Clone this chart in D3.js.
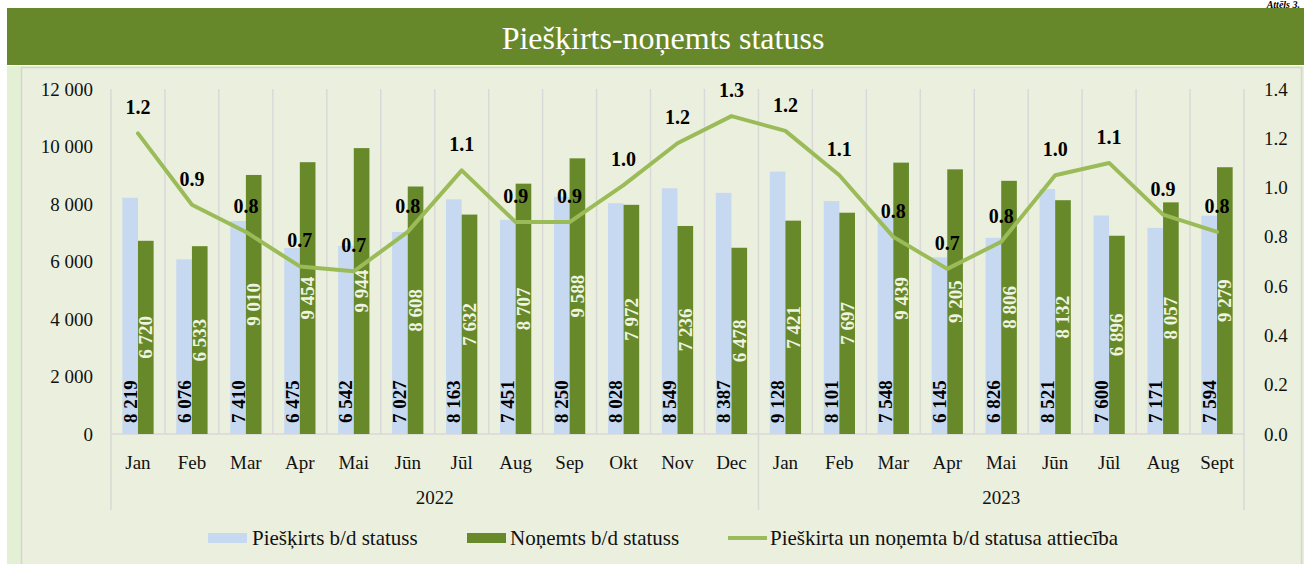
<!DOCTYPE html>
<html>
<head>
<meta charset="utf-8">
<script src="https://cdn.jsdelivr.net/npm/d3@7"></script>
<style>
  html, body { margin: 0; padding: 0; background: #ffffff; }
  svg { display: block; font-family: "Liberation Serif", "Times New Roman", serif; }
</style>
</head>
<body>
<svg id="chart" width="1304" height="564"></svg>
<script>
// ---- data ----
const months2022 = ["Jan","Feb","Mar","Apr","Mai","Jūn","Jūl","Aug","Sep","Okt","Nov","Dec"];
const months2023 = ["Jan","Feb","Mar","Apr","Mai","Jūn","Jūl","Aug","Sept"];
const years = ["2022", "2023"];
const granted = [8219,6076,7410,6475,6542,7027,8163,7451,8250,8028,8549,8387,
                 9128,8101,7548,6145,6826,8521,7600,7171,7594];
const revoked = [6720,6533,9010,9454,9944,8608,7632,8707,9588,7972,7236,6478,
                 7421,7697,9439,9205,8806,8132,6896,8057,9279];
const ratio = [1.22,0.93,0.82,0.68,0.66,0.82,1.07,0.86,0.86,1.01,1.18,1.29,
               1.23,1.05,0.80,0.67,0.78,1.05,1.10,0.89,0.82];
const ratioLabels = ["1.2","0.9","0.8","0.7","0.7","0.8","1.1","0.9","0.9","1.0","1.2","1.3",
                     "1.2","1.1","0.8","0.7","0.8","1.0","1.1","0.9","0.8"];
const leftTicks = [0,2000,4000,6000,8000,10000,12000];
const rightTicks = [0,0.2,0.4,0.6,0.8,1.0,1.2,1.4];
const title = "Piešķirts-noņemts statuss";
const legendLabels = ["Piešķirts b/d statuss", "Noņemts b/d statuss", "Pieškirta un noņemta b/d statusa attiecība"];

// ---- styles ----
const C = {
  titleBg: "#67882a", panel: "#ebf0de", strip: "#e3f0d4", border: "#d4d4d4",
  blue: "#c6d9f0", green: "#67892a", line: "#9bbb59", grid: "#d9d9d9", text: "#111111"
};

const svg = d3.select("#chart");
const cats = months2022.map((m,i)=>({m, y:0, i})).concat(months2023.map((m,i)=>({m, y:1, i:12+i})));
const N = cats.length;

// background panels
svg.append("rect").attr("x",7).attr("y",66).attr("width",1297).attr("height",498).attr("fill",C.strip);
svg.append("rect").attr("x",21.5).attr("y",67.5).attr("width",1280).attr("height",500)
  .attr("fill",C.panel).attr("stroke",C.border).attr("stroke-width",1.5);
svg.append("rect").attr("x",7).attr("y",8).attr("width",1297).attr("height",57).attr("fill",C.titleBg);
svg.append("text").attr("x",663).attr("y",49).attr("text-anchor","middle")
  .attr("fill","#ffffff").attr("font-size",32).text(title);
svg.append("text").attr("x",1300).attr("y",7.5).attr("text-anchor","end")
  .attr("fill","#000").attr("font-size",10).attr("font-style","italic").attr("font-weight","bold").text("Attēls 3.");

// scales
const x0 = 111, x1 = 1244, yTop = 89, yBase = 434;
const x = d3.scaleBand().domain(d3.range(N)).range([x0, x1]).padding(0);
const yL = d3.scaleLinear().domain([0,12000]).range([yBase, yTop]);
const yR = d3.scaleLinear().domain([0,1.4]).range([yBase, yTop]);
const bw = x.bandwidth();
const barW = bw * 0.29;
const cx = i => x(i) + bw/2;

// vertical gridlines at category boundaries
const g = svg.append("g");
g.selectAll("line.grid").data(d3.range(N+1)).join("line")
  .attr("x1", i => i < N ? x(i) : x1).attr("x2", i => i < N ? x(i) : x1)
  .attr("y1", yTop).attr("y2", yBase)
  .attr("stroke", C.grid).attr("stroke-width", 1.5);
// group dividers extending below axis
[0, 12, N].forEach(i => {
  const xx = i < N ? x(i) : x1;
  g.append("line").attr("x1",xx).attr("x2",xx).attr("y1",yBase).attr("y2",510)
    .attr("stroke",C.grid).attr("stroke-width",1.5);
});
// baseline
g.append("line").attr("x1",x0).attr("x2",x1).attr("y1",yBase).attr("y2",yBase)
  .attr("stroke",C.grid).attr("stroke-width",1.5);

// bars
svg.append("g").selectAll("rect").data(granted).join("rect")
  .attr("x",(d,i)=>cx(i)-barW).attr("y",d=>yL(d)).attr("width",barW).attr("height",d=>yBase-yL(d))
  .attr("fill",C.blue);
svg.append("g").selectAll("rect").data(revoked).join("rect")
  .attr("x",(d,i)=>cx(i)).attr("y",d=>yL(d)).attr("width",barW).attr("height",d=>yBase-yL(d))
  .attr("fill",C.green);

const fmt = v => d3.format(",")(v).replace(/,/g, " ");

// bar labels (rotated)
svg.append("g").selectAll("text").data(granted).join("text")
  .attr("transform",(d,i)=>`translate(${cx(i)-barW/2+6.5},${yBase-11}) rotate(-90)`)
  .attr("font-size",19).attr("font-weight","bold").attr("fill","#000")
  .text(d=>fmt(d));
svg.append("g").selectAll("text").data(revoked).join("text")
  .attr("transform",(d,i)=>`translate(${cx(i)+barW/2+6.5},${(yBase+yL(d))/2}) rotate(-90)`)
  .attr("text-anchor","middle")
  .attr("font-size",19).attr("font-weight","bold").attr("fill","#eef3e2")
  .text(d=>fmt(d));

// line
const line = d3.line().x((d,i)=>cx(i)).y(d=>yR(d));
svg.append("path").datum(ratio).attr("d",line).attr("fill","none")
  .attr("stroke",C.line).attr("stroke-width",4).attr("stroke-linejoin","round").attr("stroke-linecap","round");
svg.append("g").selectAll("text").data(ratio).join("text")
  .attr("x",(d,i)=>cx(i)).attr("y",d=>yR(d)-19)
  .attr("text-anchor","middle").attr("font-size",20).attr("font-weight","bold").attr("fill","#000")
  .text((d,i)=>ratioLabels[i]);

// axes
const axL = svg.append("g").attr("transform",`translate(${x0-18},0)`)
  .call(d3.axisLeft(yL).tickValues(leftTicks).tickSize(0).tickPadding(0).tickFormat(fmt));
axL.select(".domain").remove();
axL.selectAll("text").attr("font-size",19).attr("fill",C.text).attr("font-family","Liberation Serif");

const axR = svg.append("g").attr("transform",`translate(${x1+20},0)`)
  .call(d3.axisRight(yR).tickValues(rightTicks).tickSize(0).tickPadding(0).tickFormat(d3.format(".1f")));
axR.select(".domain").remove();
axR.selectAll("text").attr("font-size",19).attr("fill",C.text).attr("font-family","Liberation Serif");

// category labels
svg.append("g").selectAll("text").data(cats).join("text")
  .attr("x",(d)=>cx(d.i)).attr("y",469).attr("text-anchor","middle")
  .attr("font-size",19).attr("fill",C.text).text(d=>d.m);
svg.append("g").selectAll("text").data(years).join("text")
  .attr("x",(d,k)=> k===0 ? (x0 + x(12))/2 : (x(12)+x1)/2).attr("y",504).attr("text-anchor","middle")
  .attr("font-size",19).attr("fill",C.text).text(d=>d);

// legend
const lg = svg.append("g");
const ly = 538;
lg.append("rect").attr("x",208).attr("y",ly-5).attr("width",39).attr("height",10).attr("fill",C.blue);
lg.append("text").attr("x",252).attr("y",ly+7).attr("font-size",21).attr("fill",C.text).text(legendLabels[0]);
lg.append("rect").attr("x",467).attr("y",ly-5).attr("width",39).attr("height",10).attr("fill",C.green);
lg.append("text").attr("x",510).attr("y",ly+7).attr("font-size",21).attr("fill",C.text).text(legendLabels[1]);
lg.append("line").attr("x1",728).attr("x2",767).attr("y1",ly).attr("y2",ly)
  .attr("stroke",C.line).attr("stroke-width",4);
lg.append("text").attr("x",770).attr("y",ly+7).attr("font-size",21).attr("fill",C.text).text(legendLabels[2]);
</script>
</body>
</html>
